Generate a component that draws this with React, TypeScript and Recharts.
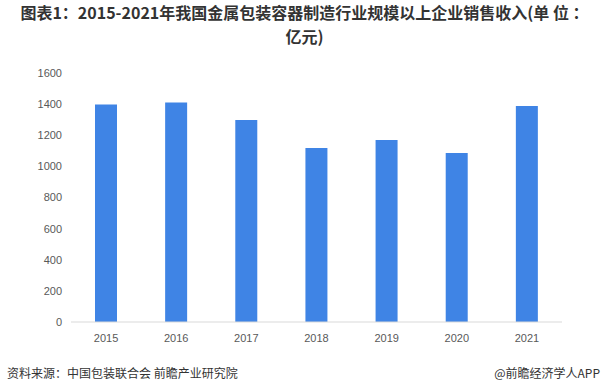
import React from 'react'
import { BarChart, Bar, XAxis, YAxis } from 'recharts'

const years = ['2015', '2016', '2017', '2018', '2019', '2020', '2021']
const revenue = [1398, 1410, 1298, 1118, 1169, 1086, 1388]
const yTicks = [0, 200, 400, 600, 800, 1000, 1200, 1400, 1600]

const chartData = years.map((year, i) => ({ year, value: revenue[i] }))

const cjk = '"Noto Sans CJK SC", "Noto Sans", sans-serif'
const latin = '"Liberation Sans", Arial, sans-serif'

const titleLine: React.CSSProperties = {
    position: 'absolute',
    left: 0,
    width: 609,
    textAlign: 'center',
    fontSize: 16,
    fontWeight: 700,
    lineHeight: '17px',
    color: '#333',
    whiteSpace: 'nowrap',
}

export default function App() {
    return (
        <div
            style={{
                position: 'absolute',
                top: 0,
                left: 0,
                width: 609,
                height: 390,
                background: '#fff',
                fontFamily: cjk,
            }}
        >
            {/* title, split over two lines like the original */}
            <div style={{ ...titleLine, top: 4 }}>
                图表1：2015-2021年我国金属包装容器制造行业规模以上企业销售收入(单 位 ：
            </div>
            <div style={{ ...titleLine, top: 28 }}>亿元)</div>

            <BarChart
                width={609}
                height={390}
                data={chartData}
                margin={{ top: 73, right: 47, left: 0, bottom: 38 }}
            >
                <XAxis
                    dataKey='year'
                    height={30}
                    axisLine={{ stroke: '#d9d9d9' }}
                    tickLine={false}
                    tickMargin={6}
                    tick={{ fill: '#595959', fontSize: 11, fontFamily: latin }}
                />
                <YAxis
                    width={71}
                    domain={[0, 1600]}
                    ticks={yTicks}
                    axisLine={false}
                    tickLine={false}
                    tickSize={0}
                    tickMargin={9}
                    tick={{ fill: '#595959', fontSize: 11, fontFamily: latin }}
                />
                <Bar dataKey='value' fill='#3f84e5' barSize={22} isAnimationActive={false} />
            </BarChart>

            {/* source line */}
            <div style={{ position: 'absolute', top: 364, left: 7, fontSize: 12, color: '#333' }}>
                资料来源：中国包装联合会 前瞻产业研究院
            </div>
            <div style={{ position: 'absolute', top: 364, right: 9, fontSize: 12, color: '#333' }}>
                @前瞻经济学人APP
            </div>
        </div>
    )
}
